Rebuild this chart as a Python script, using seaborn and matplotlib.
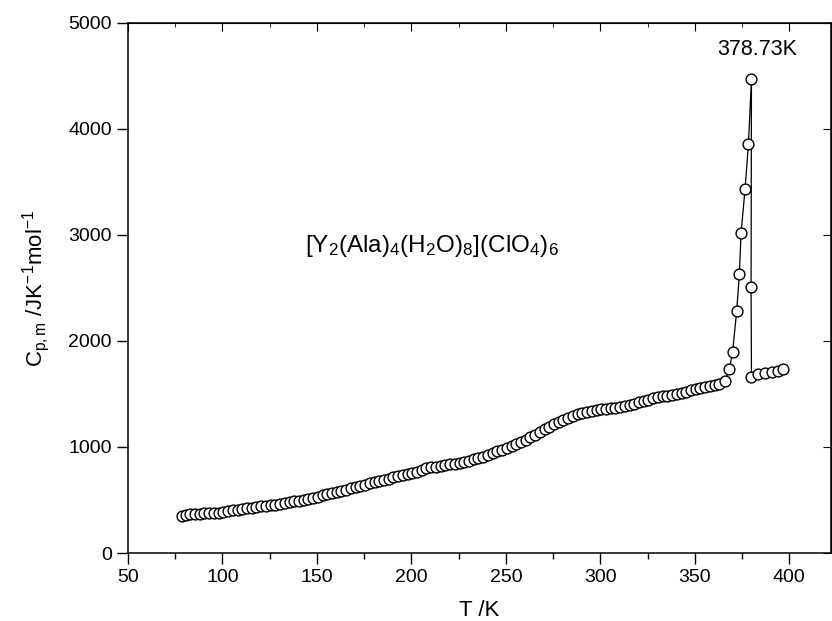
import numpy as np
import pandas as pd
import matplotlib
matplotlib.use('Agg')
import matplotlib.pyplot as plt
import seaborn as sns
from matplotlib.ticker import MultipleLocator

# heat capacity data
temp = [78.5, 80.5, 83, 85.5, 88, 90.5, 93, 95.5, 98, 100.5,
        103, 105.5, 108, 110.5, 113, 115.5, 118, 120.5, 123, 125.5,
        128, 130.5, 133, 135.5, 138, 140.5, 143, 145.5, 148, 150.5,
        153, 155.5, 158, 160.5, 163, 165.5, 168, 170.5, 173, 175.5,
        178, 180.5, 183, 185.5, 188, 190.5, 193, 195.5, 198, 200.5,
        203, 205.5, 208, 210.5, 213, 215.5, 218, 220.5, 223, 225.5,
        228, 230.5, 233, 235.5, 238, 240.5, 243, 245.5, 248, 250.5,
        253, 255.5, 258, 260.5, 263, 265.5, 268, 270.5, 273, 275.5,
        278, 280.5, 283, 285.5, 288, 290.5, 293, 295.5, 298, 300.5,
        303, 305.5, 308, 310.5, 313, 315.5, 318, 320.5, 323, 325.5,
        328, 330.5, 333, 335.5, 338, 340.5, 343, 345.5, 348, 350.5,
        353, 355.5, 358, 360.5, 363, 366.0,
        368.3, 370.0, 372.2, 373.6, 374.5, 376.6, 378.4, 380.0,
        379.8, 380.0, 383.6, 387.2, 390.7, 394.3, 396.9]
cp = [352, 358, 364, 368, 371, 374, 377, 379, 381, 386,
      395, 402, 408, 414, 420, 426, 432, 439, 445, 451,
      457, 464, 471, 479, 486, 494, 502, 511, 520, 531,
      545, 556, 566, 577, 588, 598, 609, 621, 633, 646,
      658, 669, 679, 690, 701, 713, 724, 735, 745, 756,
      768, 782, 798, 808, 815, 821, 828, 835, 842, 851,
      861, 872, 884, 896, 910, 926, 942, 958, 973, 990,
      1008, 1025, 1045, 1068, 1092, 1117, 1142, 1167, 1192, 1216,
      1238, 1258, 1277, 1294, 1310, 1323, 1333, 1341, 1348, 1354,
      1360, 1366, 1372, 1379, 1387, 1396, 1407, 1420, 1433, 1446,
      1458, 1469, 1477, 1484, 1491, 1499, 1508, 1522, 1540, 1548,
      1556, 1564, 1572, 1582, 1592, 1625,
      1733, 1893, 2286, 2632, 3016, 3431, 3858, 4472,
      2512, 1663, 1689, 1701, 1710, 1720, 1733]

df = pd.DataFrame({'T': temp, 'Cp': cp})

sns.set_style('ticks', {'axes.edgecolor': 'black', 'text.color': 'black',
                        'axes.labelcolor': 'black', 'xtick.color': 'black',
                        'ytick.color': 'black'})
plt.rcParams['font.family'] = ['Liberation Sans', 'DejaVu Sans']
plt.rcParams['mathtext.fontset'] = 'custom'
plt.rcParams['mathtext.rm'] = 'Liberation Sans'
plt.rcParams['mathtext.it'] = 'Liberation Sans:italic'

fig = plt.figure(figsize=(8.32, 6.21), dpi=100)
ax = fig.add_axes([0.1538, 0.1095, 0.845, 0.8535])

sns.lineplot(data=df, x='T', y='Cp', sort=False, estimator=None, ax=ax,
             color='black', linewidth=0.9, marker='o', markersize=7.8,
             markerfacecolor='white', markeredgecolor='black', markeredgewidth=1.0)

ax.set_xlim(50, 422.1)
ax.set_ylim(0, 5000)
ax.xaxis.set_major_locator(MultipleLocator(50))
ax.xaxis.set_minor_locator(MultipleLocator(25))
ax.yaxis.set_major_locator(MultipleLocator(1000))
ax.tick_params(which='major', direction='out', length=8, width=1, labelsize=14)
ax.tick_params(which='minor', direction='out', length=4, width=1)

top = ax.secondary_xaxis('top')
top.xaxis.set_major_locator(MultipleLocator(50))
top.xaxis.set_minor_locator(MultipleLocator(25))
top.tick_params(which='major', direction='in', length=6, labeltop=False)
top.tick_params(which='minor', direction='in', length=3)
right = ax.secondary_yaxis('right')
right.yaxis.set_major_locator(MultipleLocator(1000))
right.tick_params(which='major', direction='in', length=6, labelright=False)

for s in ax.spines.values():
    s.set_linewidth(1.1)

ax.set_xlabel('T /K', fontsize=16, labelpad=10)
ax.set_ylabel(r'C$_{\rm p,m}$ /JK$^{-1}$mol$^{-1}$', fontsize=16, labelpad=12)

ax.text(383, 4750, '378.73K', ha='center', va='center', fontsize=15.5)
ax.text(143.5, 2900, r'[Y$_2$(Ala)$_4$(H$_2$O)$_8$](ClO$_4$)$_6$',
        ha='left', va='center', fontsize=17.5)

fig.savefig('out.png', dpi=100)
